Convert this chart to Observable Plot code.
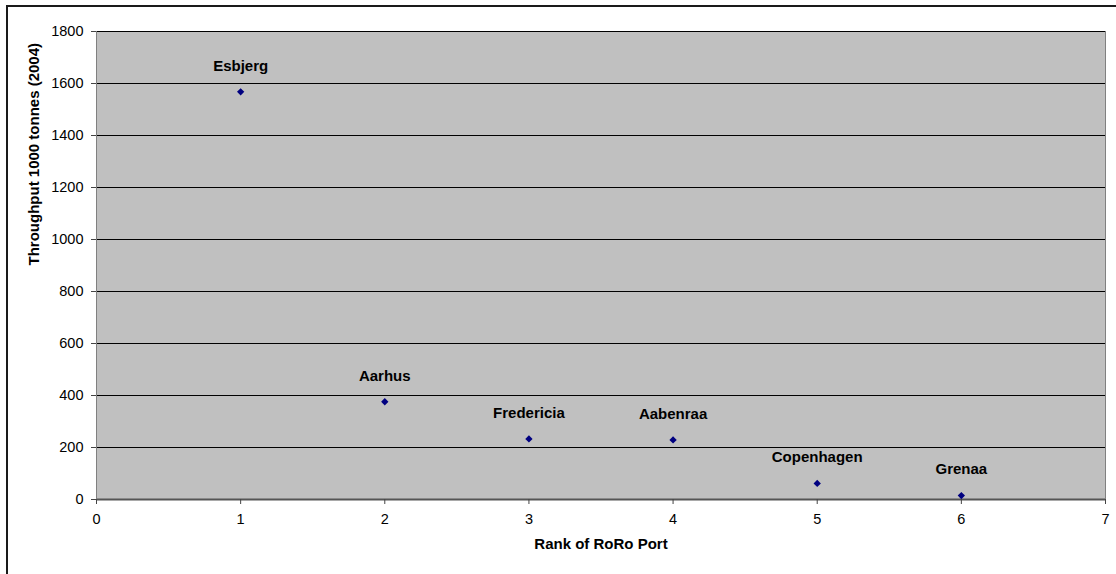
<!DOCTYPE html>
<html>
<head>
<meta charset="utf-8">
<script src="https://cdn.jsdelivr.net/npm/d3@7"></script>
<script src="https://cdn.jsdelivr.net/npm/@observablehq/plot@0.6"></script>
<style>
  body { margin: 0; background: #fff; }
  #wrap { position: relative; width: 1116px; height: 574px; overflow: hidden; }
  #wrap svg { position: absolute; left: 0; top: 0; }
  #border { position: absolute; left: 6px; top: 5px; right: -10px; bottom: -10px;
            border-top: 2px solid #1a1a1a; border-left: 2px solid #1a1a1a; pointer-events: none; }
</style>
</head>
<body>
<div id="wrap"><div id="border"></div></div>
<script>
const ports = ["Esbjerg", "Aarhus", "Fredericia", "Aabenraa", "Copenhagen", "Grenaa"];
const ranks = [1, 2, 3, 4, 5, 6];
const throughput = [1568, 376, 233, 229, 62, 15];
const xTicks = [0, 1, 2, 3, 4, 5, 6, 7];
const yTicks = [0, 200, 400, 600, 800, 1000, 1200, 1400, 1600, 1800];
const xTitle = "Rank of RoRo Port";
const yTitle = "Throughput 1000 tonnes (2004)";

const data = ports.map((p, i) => ({port: p, rank: ranks[i], value: throughput[i]}));

const chart = Plot.plot({
  width: 1116,
  height: 574,
  marginLeft: 96,
  marginRight: 11,
  marginTop: 31,
  marginBottom: 75,
  style: {fontFamily: "'Liberation Sans', Arial, sans-serif", fontSize: "14px", color: "#000", background: "transparent"},
  x: {domain: [0, 7]},
  y: {domain: [0, 1800]},
  marks: [
    Plot.frame({fill: "#c0c0c0", stroke: "#808080"}),
    Plot.ruleY(yTicks.filter(d => d > 0), {stroke: "#000", strokeWidth: 1}),
    Plot.ruleY([0], {stroke: "#555", strokeWidth: 2}),
    Plot.ruleX([0], {stroke: "#808080", strokeWidth: 1}),
    Plot.axisY({ticks: yTicks, tickFormat: d => String(d), tickSize: 5, tickPadding: 8, label: null, fontSize: 14.5, stroke: "#444"}),
    Plot.axisX({ticks: xTicks, tickFormat: d => String(d), tickSize: 5, tickPadding: 9, label: null, fontSize: 14.5, stroke: "#444"}),
    Plot.dot(data, {x: "rank", y: "value", symbol: "diamond2", r: 3.3, fill: "#000080", stroke: "none"}),
    Plot.text(data, {x: "rank", y: "value", text: "port", dy: -26, fontWeight: "bold", fontSize: 15, fill: "#000"}),
    Plot.text([xTitle], {frameAnchor: "bottom", dy: 49, fontWeight: "bold", fontSize: 15, fill: "#000"}),
    Plot.text([yTitle], {frameAnchor: "left", dx: -62, rotate: -90, fontWeight: "bold", fontSize: 15, fill: "#000"})
  ]
});
document.getElementById("wrap").appendChild(chart);
</script>
</body>
</html>
